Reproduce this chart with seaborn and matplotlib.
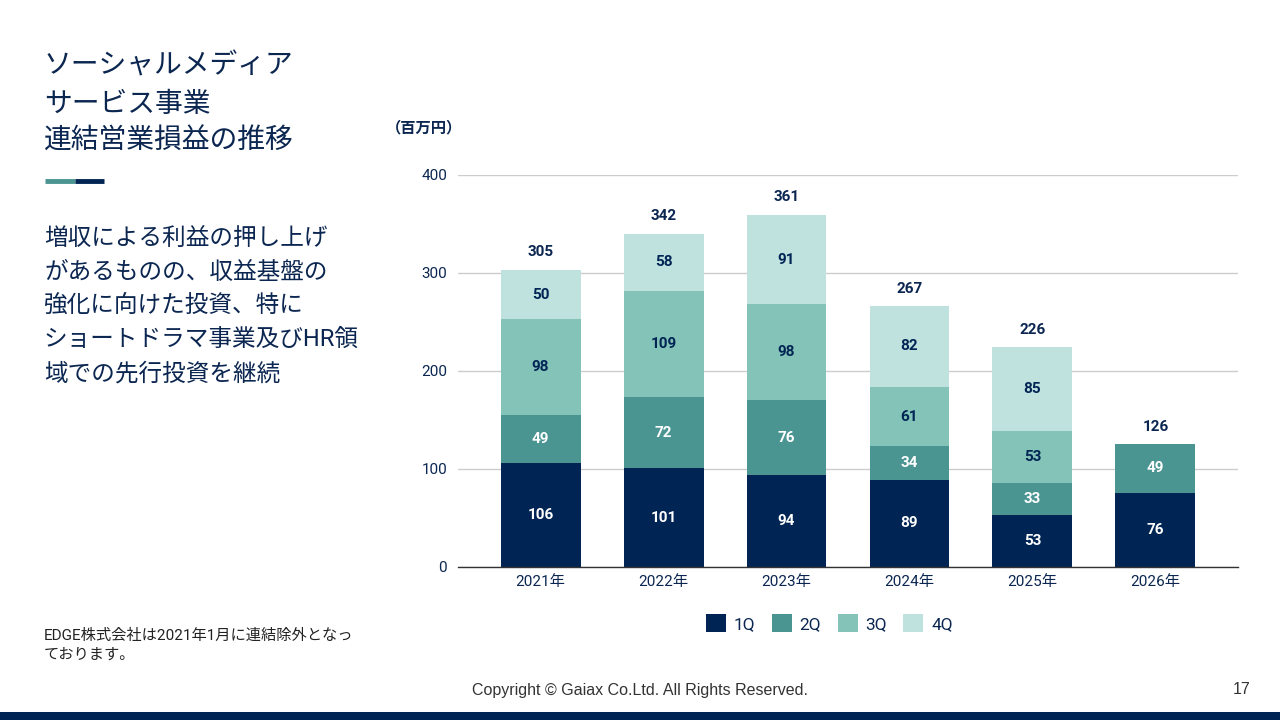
import numpy as np
import pandas as pd
import matplotlib
matplotlib.use("Agg")
import matplotlib.pyplot as plt
import seaborn as sns

# Data (百万円)
years = ["2021年", "2022年", "2023年", "2024年", "2025年", "2026年"]
quarters = ["1Q", "2Q", "3Q", "4Q"]
q1 = [106, 101, 94, 89, 53, 76]
q2 = [49, 72, 76, 34, 33, 49]
q3 = [98, 109, 98, 61, 53, np.nan]
q4 = [50, 58, 91, 82, 85, np.nan]
totals = [305, 342, 361, 267, 226, 126]

colors = ["#002454", "#4a9592", "#84c3b7", "#c0e2de"]
label_colors = ["white", "white", "#002454", "#002454"]
navy = "#0b2650"

sns.set_theme(style="white")
plt.rcParams["font.family"] = ["Roboto", "Noto Sans CJK JP", "DejaVu Sans"]

df = pd.DataFrame({"year": years, "1Q": q1, "2Q": q2, "3Q": q3, "4Q": q4})
cum = df[quarters].cumsum(axis=1, skipna=True)
cum[df[quarters].isna()] = np.nan
cum["year"] = years

fig = plt.figure(figsize=(12.8, 7.2), dpi=100)
ax = fig.add_axes([0.358, 0.2125, 0.609, 0.5445])

# draw cumulative bars from the top segment down
for q, c in reversed(list(zip(quarters, colors))):
    sns.barplot(data=cum, x="year", y=q, order=years, color=c, width=0.65,
                linewidth=0, saturation=1, ax=ax, label=q, zorder=2)

# segment labels
for i in range(len(years)):
    bottom = 0
    for q, lc in zip(quarters, label_colors):
        v = df.loc[i, q]
        if pd.isna(v):
            continue
        ax.text(i, bottom + v / 2, f"{int(v)}", ha="center", va="center",
                color=lc, fontsize=11, fontweight="bold", zorder=3)
        bottom += v
    ax.text(i, bottom + 11, f"{totals[i]}", ha="center", va="bottom",
            color=navy, fontsize=11, fontweight="bold", zorder=3)

ax.set_ylim(0, 400)
ax.set_xlim(-0.67, 5.67)
ax.set_yticks([0, 100, 200, 300, 400])
ax.yaxis.grid(True, color="#cccccc", linewidth=1, zorder=0)
ax.set_axisbelow(True)
for s in ["top", "right", "left"]:
    ax.spines[s].set_visible(False)
ax.spines["bottom"].set_color("#333333")
ax.spines["bottom"].set_linewidth(1)
ax.tick_params(axis="both", length=0, labelsize=11, colors=navy, pad=8)
ax.tick_params(axis="x", pad=6)
ax.set_xlabel("")
ax.set_ylabel("")

handles, labels = ax.get_legend_handles_labels()
order = [labels.index(q) for q in quarters]
leg = ax.legend([handles[k] for k in order], quarters, loc="upper center",
                bbox_to_anchor=(0.476, -0.081), ncol=4, frameon=False,
                fontsize=12.5, handlelength=1.15, handleheight=1.15,
                columnspacing=0.95, handletextpad=0.45)
for t in leg.get_texts():
    t.set_color(navy)

fig.text(386 / 1280, 1 - 128 / 720, "（百万円）", fontsize=11, color=navy,
         ha="left", va="center", fontweight="bold")

# left side text
fig.text(44 / 1280, 1 - 104 / 720, "ソーシャルメディア\nサービス事業\n連結営業損益の推移",
         fontsize=20, color=navy, ha="left", va="center", linespacing=1.5)
fig.add_artist(plt.Line2D([45 / 1280, 75 / 1280], [1 - 181 / 720] * 2,
                          color="#4a9592", linewidth=3.5, solid_capstyle="butt"))
fig.add_artist(plt.Line2D([75 / 1280, 104 / 1280], [1 - 181 / 720] * 2,
                          color="#002454", linewidth=3.5, solid_capstyle="butt"))
fig.text(44 / 1280, 1 - 306 / 720,
         "増収による利益の押し上げ\nがあるものの、収益基盤の\n強化に向けた投資、特に\nショートドラマ事業及びHR領\n域での先行投資を継続",
         fontsize=17, color=navy, ha="left", va="center", linespacing=1.6)
fig.text(44 / 1280, 1 - 645 / 720, "EDGE株式会社は2021年1月に連結除外となっ\nております。",
         fontsize=11, color="#222222", ha="left", va="center", linespacing=1.45)

fig.text(640 / 1280, 1 - 690 / 720, "Copyright © Gaiax Co.Ltd. All Rights Reserved.",
         fontsize=11.5, color="#333333", ha="center", va="center",
         family=["Liberation Sans", "DejaVu Sans"])
fig.text(1251 / 1280, 1 - 690 / 720, "17", fontsize=11.5, color="#333333",
         ha="right", va="center", family=["Liberation Sans", "DejaVu Sans"])
fig.add_artist(plt.Rectangle((0, 0), 1, 8 / 720, transform=fig.transFigure,
                             color="#002454", linewidth=0))

fig.savefig("out.png", dpi=100)
